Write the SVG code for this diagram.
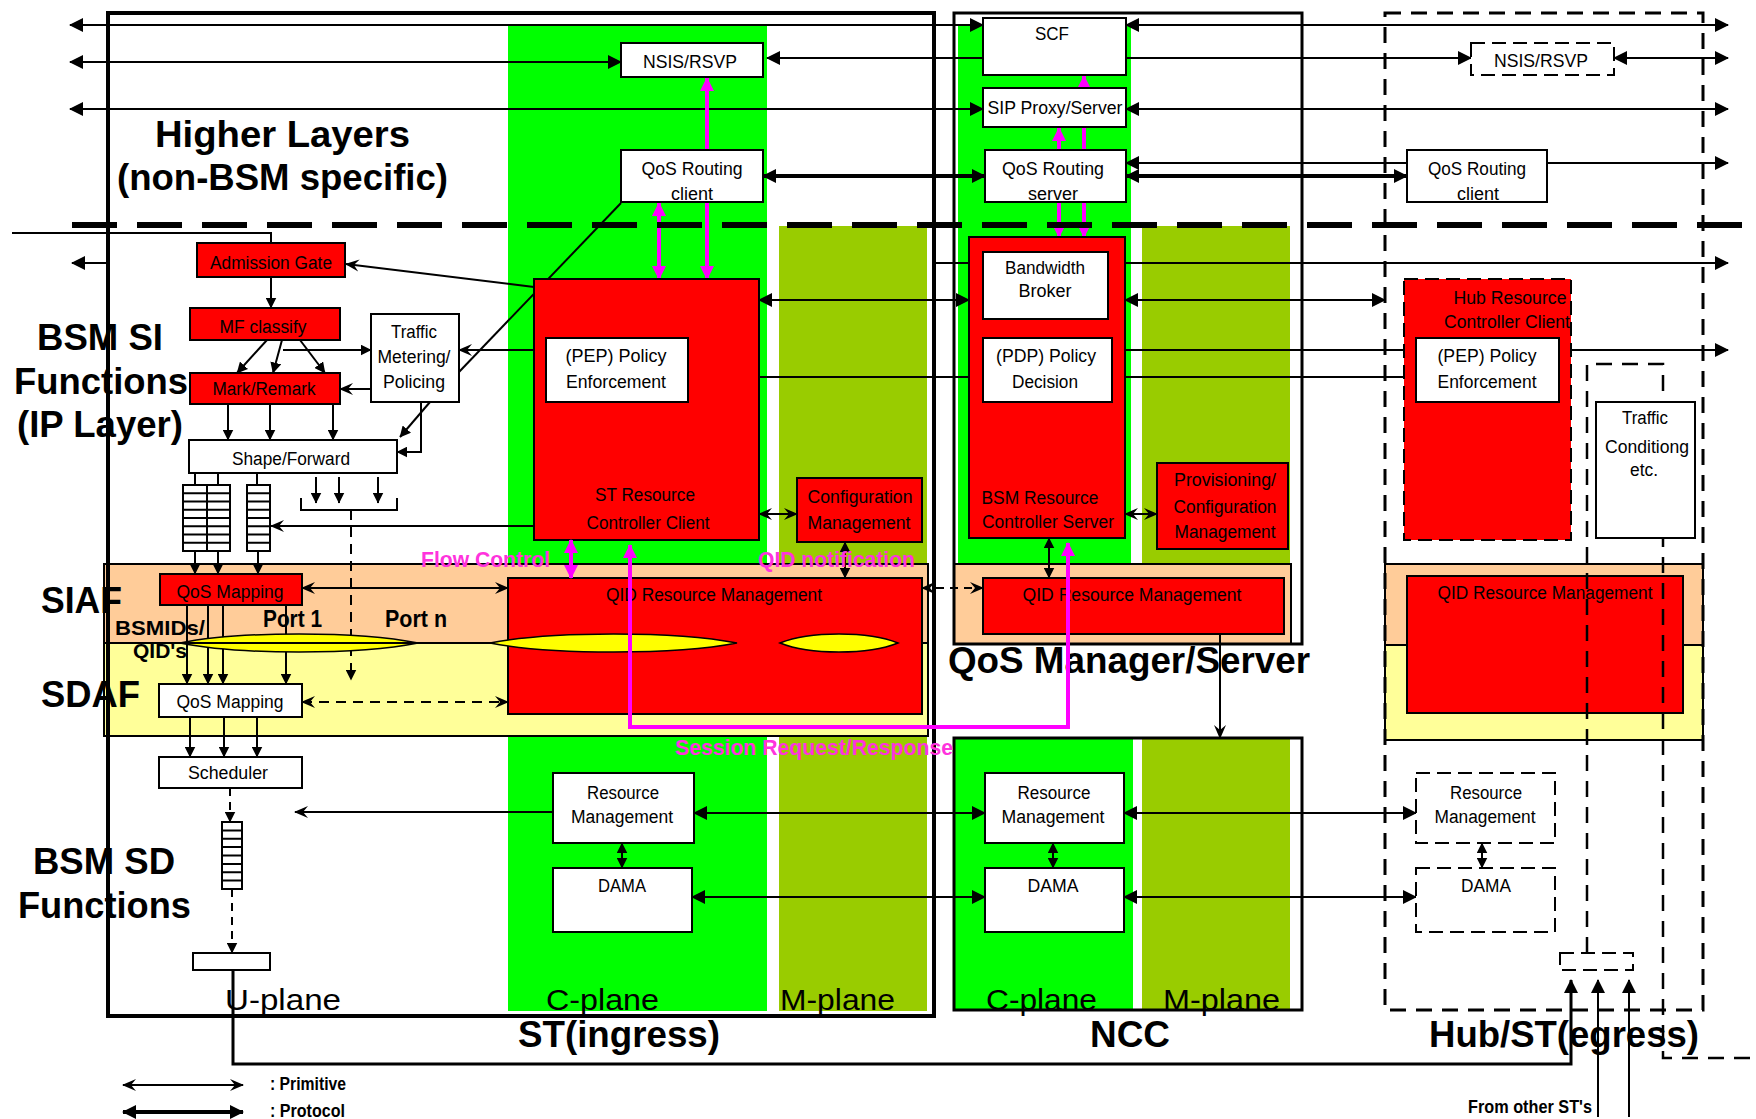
<svg xmlns="http://www.w3.org/2000/svg" width="1756" height="1119" viewBox="0 0 1756 1119">
<defs>
<marker id="a" viewBox="0 0 14 14" refX="13" refY="7" markerWidth="14" markerHeight="14" markerUnits="userSpaceOnUse" orient="auto-start-reverse"><path d="M0,0 L14,7 L0,14 z" fill="#000"/></marker>
<marker id="c" viewBox="0 0 14 14" refX="13" refY="7" markerWidth="14" markerHeight="14" markerUnits="userSpaceOnUse" orient="auto-start-reverse"><path d="M0,1 L14,7 L0,13 L5,7 z" fill="#000"/></marker>
<marker id="s" viewBox="0 0 10 10" refX="9.5" refY="5" markerWidth="11" markerHeight="11" markerUnits="userSpaceOnUse" orient="auto-start-reverse"><path d="M0,0 L10,5 L0,10 z" fill="#000"/></marker>
<marker id="m" viewBox="0 0 14 14" refX="13" refY="7" markerWidth="14" markerHeight="14" markerUnits="userSpaceOnUse" orient="auto-start-reverse"><path d="M0,0 L14,7 L0,14 z" fill="#FF00FF"/></marker>
<style>
.bx{stroke:#000;stroke-width:2}
.w{fill:#fff}
.r{fill:#f00}
.d{stroke-dasharray:14 7}
.t{font-family:"Liberation Sans",Arial,sans-serif;font-size:18px;fill:#000;text-anchor:middle}
.L{font-family:"Liberation Sans",Arial,sans-serif;font-weight:bold;font-size:36px;fill:#000}
.Lm{font-family:"Liberation Sans",Arial,sans-serif;font-weight:bold;font-size:21px;fill:#000}
.Lp{font-family:"Liberation Sans",Arial,sans-serif;font-weight:bold;font-size:23px;fill:#000}
.P{font-family:"Liberation Sans",Arial,sans-serif;font-size:30px;fill:#000}
.M{font-family:"Liberation Sans",Arial,sans-serif;font-weight:bold;font-size:22px;fill:#FF33DD}
.S{font-family:"Liberation Sans",Arial,sans-serif;font-weight:bold;font-size:19px;fill:#000}
.k{fill:none;stroke:#000;stroke-width:2}
.K{fill:none;stroke:#000;stroke-width:4}
.mg{fill:none;stroke:#FF00FF;stroke-width:4}
</style>
</defs>
<rect x="0" y="0" width="1756" height="1119" fill="#fff"/>

<g id="planes">
<rect x="508" y="25" width="259" height="986" fill="#00FF00"/>
<rect x="779" y="226" width="148" height="785" fill="#99CC00"/>
<rect x="958" y="25" width="173" height="539" fill="#00FF00"/>
<rect x="1142" y="226" width="148" height="338" fill="#99CC00"/>
<rect x="954" y="738" width="179" height="272" fill="#00FF00"/>
<rect x="1142" y="738" width="148" height="272" fill="#99CC00"/>
<rect x="104" y="564" width="824" height="79" fill="#FFCC99" class="bx"/>
<rect x="104" y="643" width="824" height="93" fill="#FFFF99" class="bx"/>
<rect x="954" y="564" width="337" height="80" fill="#FFCC99" class="bx"/>
<rect x="1385" y="564" width="318" height="81" fill="#FFCC99" class="bx"/>
<rect x="1385" y="645" width="318" height="95" fill="#FFFF99" class="bx"/>
</g>

<g id="connectors">
<path class="k" d="M70,25 H983" marker-start="url(#a)" marker-end="url(#a)"/>
<path class="k" d="M70,62 H621" marker-start="url(#a)" marker-end="url(#a)"/>
<path class="k" d="M767,58 H1471" marker-start="url(#a)" marker-end="url(#a)"/>
<path class="k" d="M70,109 H983" marker-start="url(#a)" marker-end="url(#a)"/>
<path class="K" d="M763,176 H985" marker-start="url(#a)" marker-end="url(#a)"/>
<path class="k" d="M1126,25 H1728" marker-start="url(#a)" marker-end="url(#a)"/>
<path class="k" d="M1614,58 H1728" marker-start="url(#a)" marker-end="url(#a)"/>
<path class="k" d="M1126,109 H1728" marker-start="url(#a)" marker-end="url(#a)"/>
<path class="k" d="M1126,163 H1407" marker-start="url(#a)"/>
<path class="k" d="M1547,163 H1728" marker-end="url(#a)"/>
<path class="K" d="M1126,176 H1407" marker-start="url(#a)" marker-end="url(#a)"/>
<path class="mg" d="M707,78 V279" marker-start="url(#m)" marker-end="url(#m)"/>
<path class="mg" d="M659,203 V279" marker-start="url(#m)" marker-end="url(#m)"/>
<path class="mg" d="M1059,128 V237" marker-start="url(#m)" marker-end="url(#m)"/>
<path class="mg" d="M1084,76 V237" marker-start="url(#m)" marker-end="url(#m)"/>

<path class="k" d="M12,233 H271 V243"/>
<path class="k" d="M110,263 H72" marker-end="url(#a)"/>
<path class="k" d="M534,287 L346,264" marker-end="url(#c)"/>
<path class="k" d="M271,277 V308" marker-end="url(#s)"/>
<path class="k" d="M267,340 L237,373" marker-end="url(#s)"/>
<path class="k" d="M282,340 L273,373" marker-end="url(#s)"/>
<path class="k" d="M300,340 L325,373" marker-end="url(#s)"/>
<path class="k" d="M283,350 H371" marker-end="url(#s)"/>
<path class="k" d="M371,389 H340" marker-end="url(#c)"/>
<path class="k" d="M228,404 V440" marker-end="url(#s)"/>
<path class="k" d="M270,404 V440" marker-end="url(#s)"/>
<path class="k" d="M333,404 V440" marker-end="url(#s)"/>
<path class="k" d="M430,402 L400,437" marker-end="url(#s)"/>
<path class="k" d="M421,402 V452 H397" marker-end="url(#s)"/>
<path class="k" d="M534,350 H459" marker-end="url(#c)"/>
<path class="k" d="M621,203 L459,372"/>
<path class="k" d="M195,473 V485 M218,473 V485 M257,473 V485"/>
<path class="k" d="M316,477 V503" marker-end="url(#s)"/>
<path class="k" d="M339,477 V503" marker-end="url(#s)"/>
<path class="k" d="M378,477 V503" marker-end="url(#s)"/>
<path class="k" d="M301,498 V510 H397 V498"/>
<path class="k" d="M351,510 V680" stroke-dasharray="10 7" marker-end="url(#s)"/>
<path class="k" d="M534,526 H271" marker-end="url(#c)"/>
<path class="k" d="M195,551 V574" marker-end="url(#s)"/>
<path class="k" d="M218,551 V574" marker-end="url(#s)"/>
<path class="k" d="M258,551 V574" marker-end="url(#s)"/>
<path class="k" d="M302,588 H508" marker-start="url(#c)" marker-end="url(#c)"/>
<path class="k" d="M187,605 V684" marker-end="url(#s)"/>
<path class="k" d="M208,605 V684" marker-end="url(#s)"/>
<path class="k" d="M223,605 V684" marker-end="url(#s)"/>
<path class="k" d="M286,605 V684" marker-end="url(#s)"/>
<path class="k" d="M302,702 H508" stroke-dasharray="10 7" marker-start="url(#c)" marker-end="url(#c)"/>
<path class="k" d="M190,717 V757" marker-end="url(#s)"/>
<path class="k" d="M224,717 V757" marker-end="url(#s)"/>
<path class="k" d="M257,717 V757" marker-end="url(#s)"/>
<path class="k" d="M230,788 V822" stroke-dasharray="8 6" marker-end="url(#s)"/>
<path class="k" d="M232,889 V953" stroke-dasharray="8 6" marker-end="url(#s)"/>
<path fill="none" stroke="#000" stroke-width="3" d="M233,970 V1064 H1571 V980" marker-end="url(#a)"/>
<path class="k" d="M1598,1117 V980" marker-end="url(#a)"/>
<path class="k" d="M1629,1117 V980" marker-end="url(#a)"/>
<path class="k" d="M553,812 H295" marker-end="url(#c)"/>

<path class="k" d="M759,300 H969" marker-start="url(#a)" marker-end="url(#a)"/>
<path class="k" d="M934,263 H983" marker-end="url(#a)"/>
<path class="k" d="M697,377 H983" marker-start="url(#a)" marker-end="url(#a)"/>
<path class="k" d="M759,514 H797" marker-start="url(#c)" marker-end="url(#c)"/>
<path class="k" d="M845,542 V578" marker-start="url(#s)" marker-end="url(#s)"/>
<path class="k" d="M922,588 H983" stroke-dasharray="8 6" marker-start="url(#c)" marker-end="url(#c)"/>
<path class="k" d="M1049,538 V578" marker-start="url(#s)" marker-end="url(#s)"/>
<path class="k" d="M1220,634 V738" marker-end="url(#c)"/>
<path class="k" d="M1125,514 H1157" marker-start="url(#c)" marker-end="url(#c)"/>
<path class="k" d="M1108,263 H1728" marker-start="url(#a)" marker-end="url(#a)"/>
<path class="k" d="M1125,300 H1385" marker-start="url(#a)" marker-end="url(#a)"/>
<path class="k" d="M1112,350 H1728" marker-start="url(#a)" marker-end="url(#a)"/>
<path class="k" d="M1112,377 H1404" marker-start="url(#a)"/>
<path class="k" d="M694,813 H985" marker-start="url(#a)" marker-end="url(#a)"/>
<path class="k" d="M692,897 H985" marker-start="url(#a)" marker-end="url(#a)"/>
<path class="k" d="M1124,813 H1416" marker-start="url(#a)" marker-end="url(#a)"/>
<path class="k" d="M1124,897 H1416" marker-start="url(#a)" marker-end="url(#a)"/>
<path class="k" d="M622,843 V868" marker-start="url(#s)" marker-end="url(#s)"/>
<path class="k" d="M1053,843 V868" marker-start="url(#s)" marker-end="url(#s)"/>
<path class="k" d="M1482,843 V868" marker-start="url(#s)" marker-end="url(#s)"/>
</g>

<g id="nsis-st"><rect x="621" y="43" width="142" height="34" class="bx w"/><text class="t" x="690" y="68" textLength="94" lengthAdjust="spacingAndGlyphs">NSIS/RSVP</text></g>
<g id="qosrc-st"><rect x="621" y="150" width="142" height="52" class="bx w"/><text class="t" x="692" y="175" textLength="101" lengthAdjust="spacingAndGlyphs">QoS Routing</text><text class="t" x="692" y="200" textLength="42" lengthAdjust="spacingAndGlyphs">client</text></g>
<g id="scf"><rect x="983" y="18" width="143" height="57" class="bx w"/><text class="t" x="1052" y="40" textLength="34" lengthAdjust="spacingAndGlyphs">SCF</text></g>
<g id="sip"><rect x="983" y="88" width="143" height="39" class="bx w"/><text class="t" x="1055" y="114" textLength="135" lengthAdjust="spacingAndGlyphs">SIP Proxy/Server</text></g>
<g id="qosrs"><rect x="985" y="150" width="141" height="52" class="bx w"/><text class="t" x="1053" y="175" textLength="102" lengthAdjust="spacingAndGlyphs">QoS Routing</text><text class="t" x="1053" y="200" textLength="50" lengthAdjust="spacingAndGlyphs">server</text></g>
<g id="nsis-hub"><rect x="1471" y="43" width="143" height="32" class="bx w d"/><text class="t" x="1541" y="67" textLength="94" lengthAdjust="spacingAndGlyphs">NSIS/RSVP</text></g>
<g id="qosrc-hub"><rect x="1407" y="150" width="140" height="52" class="bx w"/><text class="t" x="1477" y="175" textLength="98" lengthAdjust="spacingAndGlyphs">QoS Routing</text><text class="t" x="1478" y="200" textLength="42" lengthAdjust="spacingAndGlyphs">client</text></g>

<g id="admission"><rect x="197" y="243" width="148" height="34" class="bx r"/><text class="t" x="271" y="269" textLength="122" lengthAdjust="spacingAndGlyphs">Admission Gate</text></g>
<g id="mf"><rect x="190" y="308" width="150" height="32" class="bx r"/><text class="t" x="263" y="333" textLength="87" lengthAdjust="spacingAndGlyphs">MF classify</text></g>
<g id="mark"><rect x="190" y="373" width="150" height="31" class="bx r"/><text class="t" x="264" y="395" textLength="103" lengthAdjust="spacingAndGlyphs">Mark/Remark</text></g>
<g id="metering"><rect x="371" y="314" width="88" height="88" class="bx w"/><text class="t" x="414" y="338" textLength="46" lengthAdjust="spacingAndGlyphs">Traffic</text><text class="t" x="414" y="363" textLength="73" lengthAdjust="spacingAndGlyphs">Metering/</text><text class="t" x="414" y="388" textLength="62" lengthAdjust="spacingAndGlyphs">Policing</text></g>
<g id="shape"><rect x="189" y="440" width="208" height="33" class="bx w"/><text class="t" x="291" y="465" textLength="118" lengthAdjust="spacingAndGlyphs">Shape/Forward</text></g>
<g id="queues">
<rect x="183" y="485" width="24" height="66" class="bx w"/><rect x="207" y="485" width="23" height="66" class="bx w"/><rect x="247" y="485" width="23" height="66" class="bx w"/>
<path class="k" d="M183,493.3H230M183,501.5H230M183,509.8H230M183,518H230M183,526.3H230M183,534.5H230M183,542.8H230M247,493.3H270M247,501.5H270M247,509.8H270M247,518H270M247,526.3H270M247,534.5H270M247,542.8H270"/>
</g>
<g id="strc"><rect x="534" y="279" width="225" height="261" class="bx r"/><text class="t" x="645" y="501" textLength="100" lengthAdjust="spacingAndGlyphs">ST Resource</text><text class="t" x="648" y="529" textLength="123" lengthAdjust="spacingAndGlyphs">Controller Client</text></g>
<g id="pep-st"><rect x="546" y="338" width="142" height="64" class="bx w"/><text class="t" x="616" y="362" textLength="101" lengthAdjust="spacingAndGlyphs">(PEP) Policy</text><text class="t" x="616" y="388" textLength="100" lengthAdjust="spacingAndGlyphs">Enforcement</text></g>
<g id="config"><rect x="797" y="478" width="125" height="64" class="bx r"/><text class="t" x="860" y="503" textLength="105" lengthAdjust="spacingAndGlyphs">Configuration</text><text class="t" x="859" y="529" textLength="103" lengthAdjust="spacingAndGlyphs">Management</text></g>
<g id="bsmrc"><rect x="969" y="237" width="156" height="301" class="bx r"/><text class="t" x="1040" y="504" textLength="117" lengthAdjust="spacingAndGlyphs">BSM Resource</text><text class="t" x="1048" y="528" textLength="132" lengthAdjust="spacingAndGlyphs">Controller Server</text></g>
<g id="bb"><rect x="983" y="252" width="125" height="67" class="bx w"/><text class="t" x="1045" y="274" textLength="80" lengthAdjust="spacingAndGlyphs">Bandwidth</text><text class="t" x="1045" y="297" textLength="53" lengthAdjust="spacingAndGlyphs">Broker</text></g>
<g id="pdp"><rect x="983" y="338" width="129" height="64" class="bx w"/><text class="t" x="1046" y="362" textLength="100" lengthAdjust="spacingAndGlyphs">(PDP) Policy</text><text class="t" x="1045" y="388" textLength="66" lengthAdjust="spacingAndGlyphs">Decision</text></g>
<g id="prov"><rect x="1157" y="463" width="131" height="86" class="bx r"/><text class="t" x="1225" y="486" textLength="102" lengthAdjust="spacingAndGlyphs">Provisioning/</text><text class="t" x="1225" y="513" textLength="103" lengthAdjust="spacingAndGlyphs">Configuration</text><text class="t" x="1225" y="538" textLength="101" lengthAdjust="spacingAndGlyphs">Management</text></g>
<g id="hubrcc"><rect x="1404" y="279" width="167" height="261" class="bx r d"/><text class="t" x="1510" y="304" textLength="113" lengthAdjust="spacingAndGlyphs">Hub  Resource</text><text class="t" x="1507" y="328" textLength="126" lengthAdjust="spacingAndGlyphs">Controller Client</text></g>
<g id="pep-hub"><rect x="1416" y="338" width="143" height="64" class="bx w"/><text class="t" x="1487" y="362" textLength="99" lengthAdjust="spacingAndGlyphs">(PEP) Policy</text><text class="t" x="1487" y="388" textLength="99" lengthAdjust="spacingAndGlyphs">Enforcement</text></g>

<g id="qosmap-siaf"><rect x="160" y="574" width="142" height="31" class="bx r"/><text class="t" x="230" y="598" textLength="107" lengthAdjust="spacingAndGlyphs">QoS Mapping</text></g>
<g id="qosmap-sdaf"><rect x="159" y="684" width="143" height="33" class="bx w"/><text class="t" x="230" y="708" textLength="107" lengthAdjust="spacingAndGlyphs">QoS Mapping</text></g>
<g id="scheduler"><rect x="159" y="757" width="143" height="31" class="bx w"/><text class="t" x="228" y="779" textLength="80" lengthAdjust="spacingAndGlyphs">Scheduler</text></g>
<g id="sched-queue"><rect x="222" y="822" width="20" height="67" class="bx w"/><path class="k" d="M222,830.4H242M222,838.8H242M222,847.1H242M222,855.5H242M222,863.9H242M222,872.3H242M222,880.6H242"/></g>
<g id="uplane-port"><rect x="193" y="953" width="77" height="17" class="bx w"/></g>
<g id="tube-1"><path d="M180,643 C240,631 358,631 418,643 C358,655 240,655 180,643 z" fill="#FFFF00" stroke="#000" stroke-width="1.5"/></g>
<path class="k" d="M104,643 H508"/>
<g id="qidrm-st"><rect x="508" y="578" width="414" height="136" class="bx r"/><text class="t" x="714" y="601" textLength="216" lengthAdjust="spacingAndGlyphs">QID  Resource Management</text></g>
<g id="tube-2"><path d="M490,643 C552,631 675,631 737,643 C675,655 552,655 490,643 z" fill="#FFFF00" stroke="#000" stroke-width="1.5"/></g>
<g id="tube-3"><path d="M780,643 C810,631 868,631 898,643 C868,655 810,655 780,643 z" fill="#FFFF00" stroke="#000" stroke-width="1.5"/></g>
<g id="qidrm-ncc"><rect x="983" y="578" width="301" height="56" class="bx r"/><text class="t" x="1132" y="601" textLength="219" lengthAdjust="spacingAndGlyphs">QID  Resource Management</text></g>
<g id="qidrm-hub"><rect x="1407" y="576" width="276" height="137" class="bx r"/><text class="t" x="1545" y="599" textLength="215" lengthAdjust="spacingAndGlyphs">QID  Resource Management</text></g>

<g id="rm-st"><rect x="553" y="773" width="141" height="70" class="bx w"/><text class="t" x="623" y="799" textLength="72" lengthAdjust="spacingAndGlyphs">Resource</text><text class="t" x="622" y="823" textLength="102" lengthAdjust="spacingAndGlyphs">Management</text></g>
<g id="dama-st"><rect x="553" y="868" width="139" height="64" class="bx w"/><text class="t" x="622" y="892" textLength="48" lengthAdjust="spacingAndGlyphs">DAMA</text></g>
<g id="rm-ncc"><rect x="985" y="773" width="139" height="70" class="bx w"/><text class="t" x="1054" y="799" textLength="73" lengthAdjust="spacingAndGlyphs">Resource</text><text class="t" x="1053" y="823" textLength="103" lengthAdjust="spacingAndGlyphs">Management</text></g>
<g id="dama-ncc"><rect x="985" y="868" width="139" height="64" class="bx w"/><text class="t" x="1053" y="892" textLength="51" lengthAdjust="spacingAndGlyphs">DAMA</text></g>
<g id="rm-hub"><rect x="1416" y="773" width="139" height="70" class="bx w d"/><text class="t" x="1486" y="799" textLength="72" lengthAdjust="spacingAndGlyphs">Resource</text><text class="t" x="1485" y="823" textLength="101" lengthAdjust="spacingAndGlyphs">Management</text></g>
<g id="dama-hub"><rect x="1416" y="868" width="139" height="64" class="bx w d"/><text class="t" x="1486" y="892" textLength="50" lengthAdjust="spacingAndGlyphs">DAMA</text></g>
<g id="hub-port"><rect x="1560" y="953" width="73" height="17" class="bx w d"/></g>

<g id="frames" fill="none" stroke="#000">
<path d="M72,225 H1756" stroke-width="6" stroke-dasharray="45 20"/>
<rect x="108" y="13" width="826" height="1003" stroke-width="4"/>
<rect x="954" y="13" width="348" height="631" stroke-width="3"/>
<rect x="954" y="738" width="348" height="272" stroke-width="3"/>
<rect x="1385" y="13" width="318" height="997" stroke-width="3" stroke-dasharray="16 10"/>
<path d="M1587,953 V364 H1663 V1058 H1756" stroke-width="2.5" stroke-dasharray="16 10"/>
</g>
<g id="traffic-cond"><rect x="1596" y="402" width="99" height="136" class="bx w"/><text class="t" x="1645" y="424" textLength="46" lengthAdjust="spacingAndGlyphs">Traffic</text><text class="t" x="1647" y="453" textLength="84" lengthAdjust="spacingAndGlyphs">Conditiong</text><text class="t" x="1644" y="476" textLength="28" lengthAdjust="spacingAndGlyphs">etc.</text></g>

<g id="labels">
<text class="L" x="155" y="147" textLength="255" lengthAdjust="spacingAndGlyphs">Higher  Layers</text>
<text class="L" x="117" y="190" textLength="331" lengthAdjust="spacingAndGlyphs">(non-BSM specific)</text>
<text class="L" x="37" y="350" textLength="126" lengthAdjust="spacingAndGlyphs">BSM SI</text>
<text class="L" x="14" y="394" textLength="174" lengthAdjust="spacingAndGlyphs">Functions</text>
<text class="L" x="17" y="437" textLength="166" lengthAdjust="spacingAndGlyphs">(IP Layer)</text>
<text class="L" x="41" y="613" textLength="81" lengthAdjust="spacingAndGlyphs">SIAF</text>
<text class="L" x="41" y="707" textLength="99" lengthAdjust="spacingAndGlyphs">SDAF</text>
<text class="L" x="33" y="874" textLength="142" lengthAdjust="spacingAndGlyphs">BSM SD</text>
<text class="L" x="18" y="918" textLength="173" lengthAdjust="spacingAndGlyphs">Functions</text>
<text class="Lm" x="115" y="635" textLength="90" lengthAdjust="spacingAndGlyphs">BSMIDs/</text>
<text class="Lm" x="133" y="658" textLength="54" lengthAdjust="spacingAndGlyphs">QID's</text>
<text class="Lp" x="263" y="627" textLength="59" lengthAdjust="spacingAndGlyphs">Port 1</text>
<text class="Lp" x="385" y="627" textLength="62" lengthAdjust="spacingAndGlyphs">Port n</text>
<text class="L" x="948" y="673" textLength="362" lengthAdjust="spacingAndGlyphs">QoS Manager/Server</text>
<text class="L" x="518" y="1047" textLength="202" lengthAdjust="spacingAndGlyphs">ST(ingress)</text>
<text class="L" x="1090" y="1047" textLength="80" lengthAdjust="spacingAndGlyphs">NCC</text>
<text class="L" x="1429" y="1047" textLength="270" lengthAdjust="spacingAndGlyphs">Hub/ST(egress)</text>
<text class="P" x="225" y="1010" textLength="116" lengthAdjust="spacingAndGlyphs">U-plane</text>
<text class="P" x="546" y="1010" textLength="113" lengthAdjust="spacingAndGlyphs">C-plane</text>
<text class="P" x="780" y="1010" textLength="115" lengthAdjust="spacingAndGlyphs">M-plane</text>
<text class="P" x="986" y="1010" textLength="111" lengthAdjust="spacingAndGlyphs">C-plane</text>
<text class="P" x="1163" y="1010" textLength="117" lengthAdjust="spacingAndGlyphs">M-plane</text>
<text class="M" x="421" y="567" textLength="129" lengthAdjust="spacingAndGlyphs">Flow Control</text>
<text class="M" x="758" y="567" textLength="157" lengthAdjust="spacingAndGlyphs">QID notification</text>
<text class="M" x="675" y="755" textLength="278" lengthAdjust="spacingAndGlyphs">Session Request/Response</text>
<text class="S" x="1468" y="1113" textLength="124" lengthAdjust="spacingAndGlyphs">From other ST's</text>
</g>

<g id="connectors-top">
<path class="mg" d="M571,540 V578" marker-start="url(#m)" marker-end="url(#m)"/>
<path class="mg" d="M630,545 V727 H1068 V543" marker-start="url(#m)" marker-end="url(#m)"/>
</g>

<g id="legend">
<path class="k" d="M123,1085 H243" marker-start="url(#c)" marker-end="url(#c)"/>
<path class="K" d="M123,1112 H243" marker-start="url(#a)" marker-end="url(#a)"/>
<text class="S" x="270" y="1090" textLength="76" lengthAdjust="spacingAndGlyphs">: Primitive</text>
<text class="S" x="270" y="1117" textLength="75" lengthAdjust="spacingAndGlyphs">: Protocol</text>
</g>
</svg>
